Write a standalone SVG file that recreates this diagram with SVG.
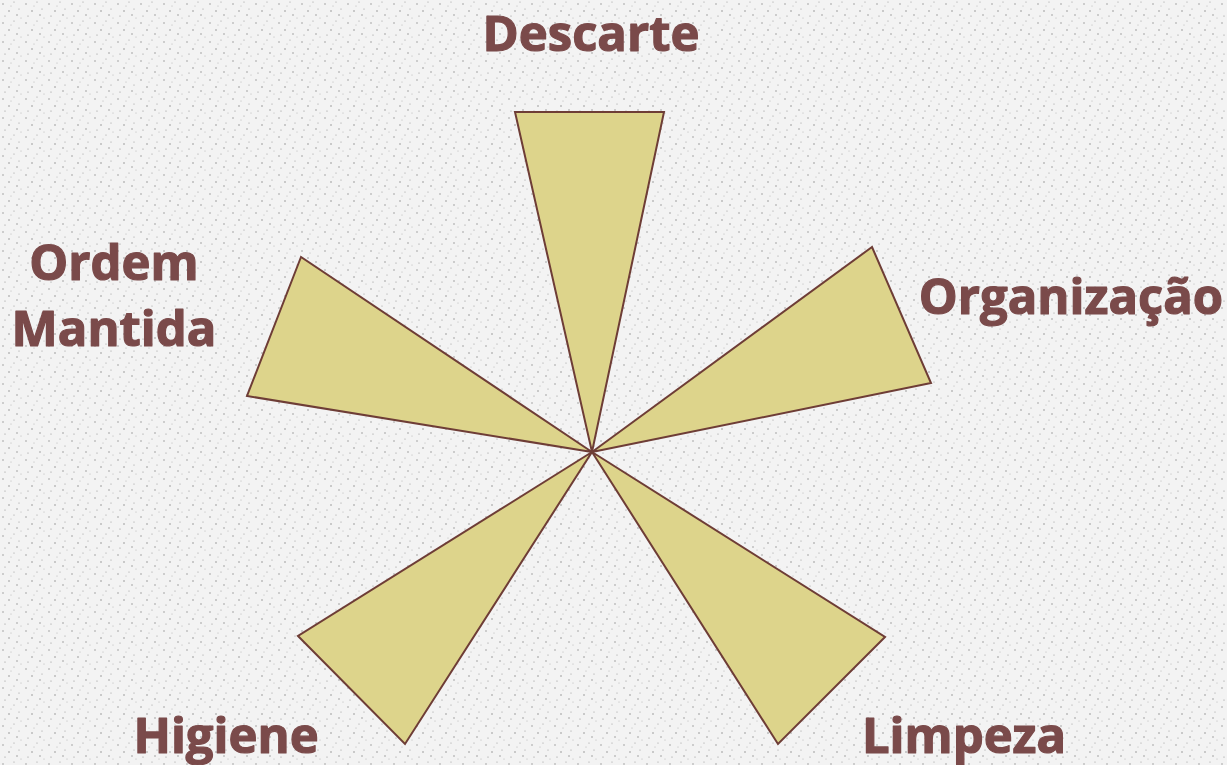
<svg xmlns="http://www.w3.org/2000/svg" width="1227" height="765" viewBox="0 0 1227 765">
  <defs>
    <pattern id="speck" width="23" height="19" patternUnits="userSpaceOnUse">
      <rect width="23" height="19" fill="#f3f3f3"/>
      <circle cx="3" cy="4" r="0.7" fill="#8a8a8a"/>
      <circle cx="14" cy="2" r="0.6" fill="#9a9a9a"/>
      <circle cx="9" cy="11" r="0.7" fill="#7f7f7f"/>
      <circle cx="19" cy="9" r="0.6" fill="#999"/>
      <circle cx="5" cy="16" r="0.6" fill="#8f8f8f"/>
      <circle cx="17" cy="15" r="0.7" fill="#888"/>
      <circle cx="21" cy="18" r="0.5" fill="#aaa"/>
      <circle cx="11" cy="6" r="0.5" fill="#aaa"/>
    </pattern>
    <style>
      .petal { fill: #ddd48b; stroke: #6e3d36; stroke-width: 2; stroke-linejoin: miter; }
      .label { font-family: "Open Sans", "Liberation Sans", sans-serif; font-weight: 700; font-size: 49px; fill: #7a4a4a; stroke: #7a4a4a; stroke-width: 1.2; stroke-linejoin: round; }
    </style>
  </defs>
  <rect width="1227" height="765" fill="url(#speck)"/>
  <g id="connectors"></g>
  <g id="petal-descarte"><polygon class="petal" points="515,112 664,112 592,452"/></g>
  <g id="petal-organizacao"><polygon class="petal" points="872,247 931,383 592,452"/></g>
  <g id="petal-ordem"><polygon class="petal" points="301,257 247,396 592,452"/></g>
  <g id="petal-higiene"><polygon class="petal" points="298,636 405,744 592,452"/></g>
  <g id="petal-limpeza"><polygon class="petal" points="885,637 778,744 592,452"/></g>
  <g id="label-descarte"><text class="label" x="591" y="51" text-anchor="middle">Descarte</text></g>
  <g id="label-ordem"><text class="label" text-anchor="middle"><tspan x="114" y="280">Ordem</tspan><tspan x="114" y="346">Mantida</tspan></text></g>
  <g id="label-organizacao"><text class="label" x="1071" y="314" text-anchor="middle">Organização</text></g>
  <g id="label-higiene"><text class="label" x="226" y="753" text-anchor="middle">Higiene</text></g>
  <g id="label-limpeza"><text class="label" x="964" y="753" text-anchor="middle">Limpeza</text></g>
</svg>
